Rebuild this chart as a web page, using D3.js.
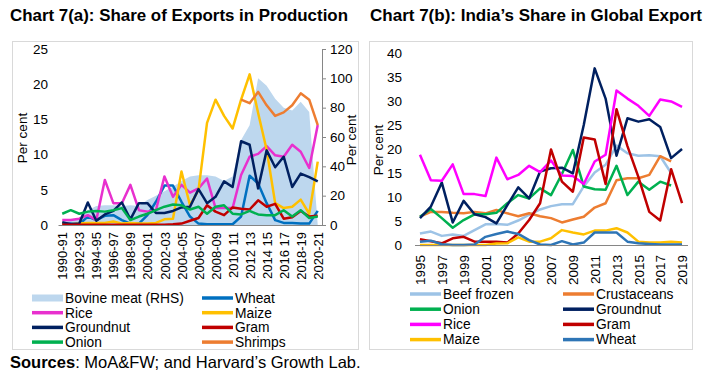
<!DOCTYPE html>
<html>
<head>
<meta charset="utf-8">
<script src="https://cdn.jsdelivr.net/npm/d3@7"></script>
<style>
  body { margin: 0; background: #fff; }
  text { font-family: "Liberation Sans", Arial, sans-serif; fill: #000; }
</style>
</head>
<body>
<div id="app"></div>
<script>
// ---- data: Chart 7(a) share of exports in production (per cent) ----
const yearsA = ['1990-91','1991-92','1992-93','1993-94','1994-95','1995-96','1996-97','1997-98','1998-99','1999-00',
  '2000-01','2001-02','2002-03','2003-04','2004-05','2005-06','2006-07','2007-08','2008-09','2009-10',
  '2010 11','2011 12','2012 13','2013 14','2014 15','2015 16','2016 17','2017-18','2018-19','2019-20','2020-21']
const bovineA = [2, 3, 5, 10, 13, 13.5, 13.5, 13, 13.5, 13, 17, 20, 23, 26, 30, 33, 34, 34, 33, 30, 33, 58, 68, 100, 95, 86, 80, 78, 84, 77, 0]
const wheatA = [0.2, 0.2, 0.1, 1.2, 0.7, 1.3, 1.4, 0.7, 0.2, 0.2, 1.4, 3.3, 5.6, 5.6, 3.3, 1.2, 0.2, 0.1, 0.1, 0.1, 0.1, 1.2, 7.0, 5.9, 3.1, 0.7, 0.3, 0.3, 0.2, 0.2, 2.0]
const riceA = [0.7, 0.7, 0.9, 1.4, 0.7, 6.4, 3.1, 3.1, 5.7, 2.1, 1.9, 2.1, 6.9, 4.0, 5.7, 4.6, 5.2, 6.6, 2.4, 2.4, 2.4, 7.1, 9.7, 10.1, 11.2, 9.9, 9.7, 11.4, 10.4, 8.1, 14.2]
const maizeA = [0.2, 0.1, 0.2, 0.3, 0.3, 0.3, 0.5, 0.2, 0.3, 0.2, 0.2, 0.3, 0.8, 0.9, 7.6, 2.8, 5.0, 14.5, 17.8, 15.5, 13.7, 17.8, 21.4, 15.9, 10.7, 3.1, 2.4, 2.6, 3.6, 1.6, 9.0]
const groundnutA = [0.4, 0.1, 0.2, 3.2, 0.6, 1.5, 2.0, 3.2, 0.8, 3.1, 3.1, 1.7, 1.7, 2.0, 2.5, 2.6, 5.1, 3.1, 4.0, 6.2, 5.4, 11.9, 11.4, 5.2, 10.6, 8.2, 9.7, 5.4, 7.3, 6.8, 6.2]
const gramA = [0.05, 0.05, 0.05, 0.05, 0.05, 0.05, 0.05, 0.05, 0.05, 0.05, 0.05, 0.05, 0.05, 0.1, 0.2, 0.6, 1.0, 2.8, 1.9, 1.4, 2.5, 2.3, 2.2, 3.5, 2.6, 3.0, 0.9, 1.1, 2.0, 1.2, 1.3]
const onionA = [1.6, 2.1, 1.6, 1.9, 2.0, 1.9, 2.1, 2.4, 0.7, 1.2, 1.6, 2.1, 2.6, 2.9, 2.8, 2.2, 2.6, 1.6, 2.6, 2.8, 1.6, 1.5, 2.0, 1.5, 1.4, 1.4, 2.1, 1.2, 2.1, 1.0, 1.2]
const shrimpsA = [null, null, null, null, null, null, null, null, null, null, null, null, null, null, null, null, null, null, null, null, null,
  17.8, 17.3, 18.9, 17.0, 15.5, 16.0, 17.0, 18.7, 17.8, 14.2]
const ticksLeftA = [0, 5, 10, 15, 20, 25]
const ticksRightA = [0, 20, 40, 60, 80, 100, 120]

// ---- data: Chart 7(b) India's share in global export (per cent) ----
const yearsB = d3.range(1995, 2020).map(String)
const beefB = [2.4, 2.8, 1.9, 2.2, 1.9, 3.1, 4.3, 4.4, 4.2, 5.1, 6.3, 7.4, 8.1, 8.5, 8.5, 12.2, 15.1, 16.7, 20.7, 19.1, 18.6, 18.7, 18.5, 15.0, null]
const crustaceansB = [5.9, 6.9, 6.9, 6.7, 6.6, 6.9, 6.6, 7.3, 6.6, 6.0, 6.6, 6.0, 5.6, 4.7, 5.3, 5.9, 7.8, 8.7, 13.5, 13.9, 13.9, 14.6, 18.5, 17.4, null]
const onionB = [5.9, 7.5, 5.6, 3.6, 5.2, 6.4, 6.4, 6.7, 8.7, 10.4, 9.7, 11.8, 10.4, 14.8, 19.8, 12.2, 11.6, 11.5, 16.5, 10.4, 13.2, 11.5, 13.2, 12.4, null]
const groundnutB = [5.6, 8.0, 13.0, 4.7, 9.2, 6.4, 5.8, 4.5, 8.3, 12.0, 9.7, 15.3, 16.0, 16.1, 14.9, 25, 36.8, 30.5, 18.6, 26.4, 25.7, 26.2, 24.6, 18.1, 20.0]
const riceB = [18.8, 13.5, 13.4, 16.8, 10.6, 10.6, 10.2, 18.2, 13.7, 14.6, 16.5, 15.2, 17.6, 14.5, 14.4, 12.7, 17.4, 18.8, 32.2, 30.5, 29.0, 26.9, 30.3, 29.9, 28.8]
const gramB = [1.2, 0.8, 0.35, 1.4, 1.7, 0.7, 0.7, 0.7, 0.5, 2.4, 5.2, 8.7, 19.9, 13.2, 11.1, 22.4, 22.0, 12.7, 28.3, 20.6, 14.2, 6.9, 5.1, 15.8, 8.7]
const maizeB = [0, 0, 0, 0, 0, 0, 0, 0.3, 0.35, 1.6, 0.7, 0.7, 1.4, 3.1, 2.6, 2.2, 3.0, 3.0, 3.5, 2.6, 0.7, 0.5, 0.5, 0.7, 0.5]
const wheatB = [0.7, 0.9, 0.15, 0, 0, 0.1, 1.7, 2.3, 2.8, 2.3, 1.0, 0.1, 0, 0.8, 0.1, 0.5, 2.6, 2.6, 2.6, 0.7, 0.35, 0.2, 0.1, 0.1, 0.1]
const ticksB = [0, 5, 10, 15, 20, 25, 30, 35, 40]

const W = 704, H = 378
const gridGrey = '#d9d9d9'
const axisGrey = '#868686'
const tickFont = '13.5px'
const legendFont = '13.8px'

const svg = d3.select('#app').append('svg')
    .attr('width', W)
    .attr('height', H)

// panel frames
svg.append('rect').attr('x', 12.5).attr('y', 41.5).attr('width', 346).attr('height', 308)
    .attr('fill', 'none').attr('stroke', gridGrey)
svg.append('rect').attr('x', 369.5).attr('y', 41.5).attr('width', 323).attr('height', 308)
    .attr('fill', 'none').attr('stroke', gridGrey)

// titles
const title = (x, txt, len) => svg.append('text')
    .attr('x', x).attr('y', 21)
    .style('font-family', '"Liberation Sans Narrow", "Arial Narrow", sans-serif')
    .style('font-weight', 'bold').style('font-size', '17px')
    .attr('textLength', len).attr('lengthAdjust', 'spacingAndGlyphs')
    .text(txt)
title(10, 'Chart 7(a): Share of Exports in Production', 338)
title(370, 'Chart 7(b): India\u2019s Share in Global Export', 332)

// ---------------- Chart 7(a) ----------------
const xA = d3.scalePoint().domain(yearsA).range([58, 322]).padding(0.5)
const yL = d3.scaleLinear().domain([0, 25]).range([225, 49])
const yR = d3.scaleLinear().domain([0, 120]).range([225, 49])

const gA = svg.append('g')

gA.append('path')
    .datum(bovineA)
    .attr('fill', '#bdd7ee')
    .attr('d', d3.area().x((d, i) => xA(yearsA[i])).y0(yR(0)).y1(d => yR(d)))

const seriesA = [
  { name: 'Wheat', values: wheatA, color: '#0070c0' },
  { name: 'Rice', values: riceA, color: '#e830ce' },
  { name: 'Maize', values: maizeA, color: '#ffc000' },
  { name: 'Groundnut', values: groundnutA, color: '#002060' },
  { name: 'Gram', values: gramA, color: '#c00000' },
  { name: 'Onion', values: onionA, color: '#00b050' },
  { name: 'Shrimps', values: shrimpsA, color: '#ed7d31' }
]

const lineA = d3.line()
    .defined(d => d != null)
    .x((d, i) => xA(yearsA[i]))
    .y(d => yL(d))

gA.selectAll('path.series')
    .data(seriesA)
    .join('path')
    .attr('class', 'series')
    .attr('fill', 'none')
    .attr('stroke', d => d.color)
    .attr('stroke-width', 2.5)
    .attr('stroke-linejoin', 'round')
    .attr('d', d => lineA(d.values))

// x axis
const axA = gA.append('g')
    .attr('transform', `translate(0,${yL(0)})`)
    .call(d3.axisBottom(xA).tickValues(yearsA.filter((d, i) => i % 2 === 0)).tickSize(0))
axA.select('.domain').attr('stroke', axisGrey)
axA.selectAll('text')
    .attr('transform', 'rotate(-90)')
    .attr('text-anchor', 'end')
    .attr('x', -7).attr('y', 0).attr('dy', '0.35em')
    .style('font-size', '13px')

// left axis
const alA = gA.append('g')
    .attr('transform', 'translate(50,0)')
    .call(d3.axisLeft(yL).tickValues(ticksLeftA).tickSize(0).tickPadding(2))
alA.select('.domain').remove()
alA.selectAll('text').style('font-size', tickFont)

// right axis
const arA = gA.append('g')
    .attr('transform', 'translate(322,0)')
    .call(d3.axisRight(yR).tickValues(ticksRightA).tickSize(4).tickPadding(4))
arA.select('.domain').attr('stroke', axisGrey)
arA.selectAll('line').attr('stroke', axisGrey)
arA.selectAll('text').style('font-size', tickFont)

gA.append('text')
    .attr('transform', 'translate(27,138) rotate(-90)')
    .attr('text-anchor', 'middle')
    .style('font-size', tickFont)
    .text('Per cent')
gA.append('text')
    .attr('transform', 'translate(356,140) rotate(-90)')
    .attr('text-anchor', 'middle')
    .style('font-size', tickFont)
    .text('Per cent')

// legend (a)
const legendA = [
  { name: 'Bovine meat (RHS)', color: '#bdd7ee', area: true },
  { name: 'Wheat', color: '#0070c0' },
  { name: 'Rice', color: '#e830ce' },
  { name: 'Maize', color: '#ffc000' },
  { name: 'Groundnut', color: '#002060' },
  { name: 'Gram', color: '#c00000' },
  { name: 'Onion', color: '#00b050' },
  { name: 'Shrimps', color: '#ed7d31' }
]
const legA = gA.selectAll('g.leg')
    .data(legendA)
    .join('g')
    .attr('class', 'leg')
    .attr('transform', (d, i) => `translate(${i % 2 === 0 ? 32 : 202},${298 + Math.floor(i / 2) * 14.7})`)
legA.each(function (d) {
  const g = d3.select(this)
  if (d.area) {
    g.append('rect').attr('x', 0).attr('y', -3.5).attr('width', 31).attr('height', 7).attr('fill', d.color)
  } else {
    g.append('line').attr('x1', 0).attr('x2', 31).attr('stroke', d.color).attr('stroke-width', 3.5)
  }
  g.append('text').attr('x', 33).attr('dy', '0.35em').style('font-size', legendFont).text(d.name)
})

// ---------------- Chart 7(b) ----------------
const xB = d3.scalePoint().domain(yearsB).range([414.5, 687.5]).padding(0.5)
const yB = d3.scaleLinear().domain([0, 40]).range([245, 53])

const gB = svg.append('g')

const seriesB = [
  { name: 'Beef frozen', values: beefB, color: '#9dc3e6' },
  { name: 'Crustaceans', values: crustaceansB, color: '#ed7d31' },
  { name: 'Onion', values: onionB, color: '#00b050' },
  { name: 'Groundnut', values: groundnutB, color: '#002060' },
  { name: 'Rice', values: riceB, color: '#ff00ff' },
  { name: 'Gram', values: gramB, color: '#c00000' },
  { name: 'Maize', values: maizeB, color: '#ffc000' },
  { name: 'Wheat', values: wheatB, color: '#2e75b6' }
]

const lineB = d3.line()
    .defined(d => d != null)
    .x((d, i) => xB(yearsB[i]))
    .y(d => yB(d))

gB.selectAll('path.series')
    .data(seriesB)
    .join('path')
    .attr('class', 'series')
    .attr('fill', 'none')
    .attr('stroke', d => d.color)
    .attr('stroke-width', 2.5)
    .attr('stroke-linejoin', 'round')
    .attr('d', d => lineB(d.values))

const axB = gB.append('g')
    .attr('transform', `translate(0,${yB(0)})`)
    .call(d3.axisBottom(xB).tickValues(yearsB.filter((d, i) => i % 2 === 0)).tickSize(0))
axB.select('.domain').attr('stroke', axisGrey)
axB.selectAll('text')
    .attr('transform', 'rotate(-90)')
    .attr('text-anchor', 'end')
    .attr('x', -10).attr('y', 0).attr('dy', '0.35em')
    .style('font-size', tickFont)

const alB = gB.append('g')
    .attr('transform', 'translate(404,0)')
    .call(d3.axisLeft(yB).tickValues(ticksB).tickSize(0).tickPadding(2))
alB.select('.domain').remove()
alB.selectAll('text').style('font-size', tickFont)

gB.append('text')
    .attr('transform', 'translate(383,150) rotate(-90)')
    .attr('text-anchor', 'middle')
    .style('font-size', tickFont)
    .text('Per cent')

// legend (b)
const legB = gB.selectAll('g.leg')
    .data(seriesB)
    .join('g')
    .attr('class', 'leg')
    .attr('transform', (d, i) => `translate(${i % 2 === 0 ? 410 : 563},${294 + Math.floor(i / 2) * 15.2})`)
legB.append('line').attr('x1', 0).attr('x2', 31).attr('stroke', d => d.color).attr('stroke-width', 3.5)
legB.append('text').attr('x', 33).attr('dy', '0.35em').style('font-size', legendFont).text(d => d.name)

// sources
const src = svg.append('text').attr('x', 10).attr('y', 368).style('font-size', '16.5px')
src.append('tspan').style('font-weight', 'bold').text('Sources')
src.append('tspan').text(': MoA&FW; and Harvard\u2019s Growth Lab.')
</script>
</body>
</html>
